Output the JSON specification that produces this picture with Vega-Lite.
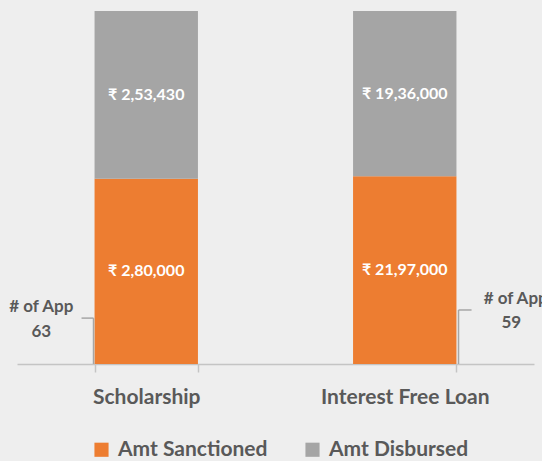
{
  "$schema": "https://vega.github.io/schema/vega-lite/v6.json",
  "autosize": {"type": "none"},
  "width": 517,
  "height": 353,
  "padding": {"left": 17, "top": 11, "right": 8, "bottom": 97},
  "background": "#eeeeee",
  "config": {"view": {"stroke": null}, "font": "Lato"},
  "data": {
    "values": [
      {"category": "Scholarship", "series": "Amt Sanctioned", "value": 280000, "label": "₹ 2,80,000", "apps": 63},
      {"category": "Scholarship", "series": "Amt Disbursed", "value": 253430, "label": "₹ 2,53,430", "apps": 63},
      {"category": "Interest Free Loan", "series": "Amt Sanctioned", "value": 2197000, "label": "₹ 21,97,000", "apps": 59},
      {"category": "Interest Free Loan", "series": "Amt Disbursed", "value": 1936000, "label": "₹ 19,36,000", "apps": 59}
    ]
  },
  "encoding": {
    "x": {
      "field": "category", "type": "nominal", "sort": null,
      "scale": {"paddingInner": 0.6, "paddingOuter": 0.3},
      "axis": {
        "title": null, "labelAngle": 0, "labelFontSize": 21, "labelFontWeight": "bold",
        "labelColor": "#595959", "labelPadding": 14, "domainColor": "#c4c4c4", "domainWidth": 1.5,
        "ticks": true, "tickColor": "#c4c4c4", "tickWidth": 1.5, "tickSize": 8, "tickBand": "extent"
      }
    }
  },
  "layer": [
    {
      "mark": {"type": "bar"},
      "encoding": {
        "y": {"field": "value", "type": "quantitative", "stack": "normalize", "scale": {"domain": [0, 1]}, "axis": null},
        "color": {
          "field": "series", "type": "nominal",
          "scale": {"domain": ["Amt Sanctioned", "Amt Disbursed"], "range": ["#ED7D31", "#A5A5A5"]},
          "legend": {
            "title": null, "orient": "none", "direction": "horizontal", "legendX": 74, "legendY": 428,
            "symbolType": "square", "symbolSize": 200, "symbolStrokeWidth": 0, "labelFontSize": 21,
            "labelFontWeight": "bold", "labelColor": "#595959", "columnPadding": 34, "labelOffset": 6
          }
        },
        "order": {"field": "series", "sort": "descending"}
      }
    },
    {
      "mark": {"type": "text", "color": "white", "fontSize": 16, "fontWeight": "bold"},
      "encoding": {
        "y": {"field": "value", "type": "quantitative", "stack": "normalize", "bandPosition": 0.5},
        "text": {"field": "label"},
        "order": {"field": "series", "sort": "descending"},
        "detail": {"field": "series"}
      }
    },
    {
      "transform": [{"filter": "datum.category == 'Scholarship' && datum.series == 'Amt Sanctioned'"}],
      "layer": [
        {
          "mark": {"type": "rule", "color": "#a6a6a6", "strokeWidth": 1.5},
          "encoding": {
            "x": {"field": "category", "type": "nominal", "sort": null, "bandPosition": -0.01},
            "y": {"datum": 0},
            "y2": {"datum": 0.13}
          }
        },
        {
          "mark": {"type": "rule", "color": "#a6a6a6", "strokeWidth": 1.5},
          "encoding": {
            "x": {"field": "category", "type": "nominal", "sort": null, "bandPosition": -0.126},
            "x2": {"field": "category", "bandPosition": -0.01},
            "y": {"datum": 0.13}
          }
        },
        {
          "mark": {"type": "text", "fontSize": 17, "fontWeight": "bold", "color": "#595959", "text": "# of App"},
          "encoding": {
            "x": {"field": "category", "type": "nominal", "sort": null, "bandPosition": -0.515},
            "y": {"datum": 0.161}
          }
        },
        {
          "mark": {"type": "text", "fontSize": 17, "fontWeight": "bold", "color": "#595959"},
          "encoding": {
            "x": {"field": "category", "type": "nominal", "sort": null, "bandPosition": -0.515},
            "y": {"datum": 0.091},
            "text": {"field": "apps"}
          }
        }
      ]
    },
    {
      "transform": [{"filter": "datum.category == 'Interest Free Loan' && datum.series == 'Amt Sanctioned'"}],
      "layer": [
        {
          "mark": {"type": "rule", "color": "#a6a6a6", "strokeWidth": 1.5},
          "encoding": {
            "x": {"field": "category", "type": "nominal", "sort": null, "bandPosition": 1.02},
            "y": {"datum": 0},
            "y2": {"datum": 0.153}
          }
        },
        {
          "mark": {"type": "rule", "color": "#a6a6a6", "strokeWidth": 1.5},
          "encoding": {
            "x": {"field": "category", "type": "nominal", "sort": null, "bandPosition": 1.02},
            "x2": {"field": "category", "bandPosition": 1.146},
            "y": {"datum": 0.153}
          }
        },
        {
          "mark": {"type": "text", "fontSize": 17, "fontWeight": "bold", "color": "#595959", "text": "# of App"},
          "encoding": {
            "x": {"field": "category", "type": "nominal", "sort": null, "bandPosition": 1.573},
            "y": {"datum": 0.184}
          }
        },
        {
          "mark": {"type": "text", "fontSize": 17, "fontWeight": "bold", "color": "#595959"},
          "encoding": {
            "x": {"field": "category", "type": "nominal", "sort": null, "bandPosition": 1.53},
            "y": {"datum": 0.116},
            "text": {"field": "apps"}
          }
        }
      ]
    }
  ]
}
